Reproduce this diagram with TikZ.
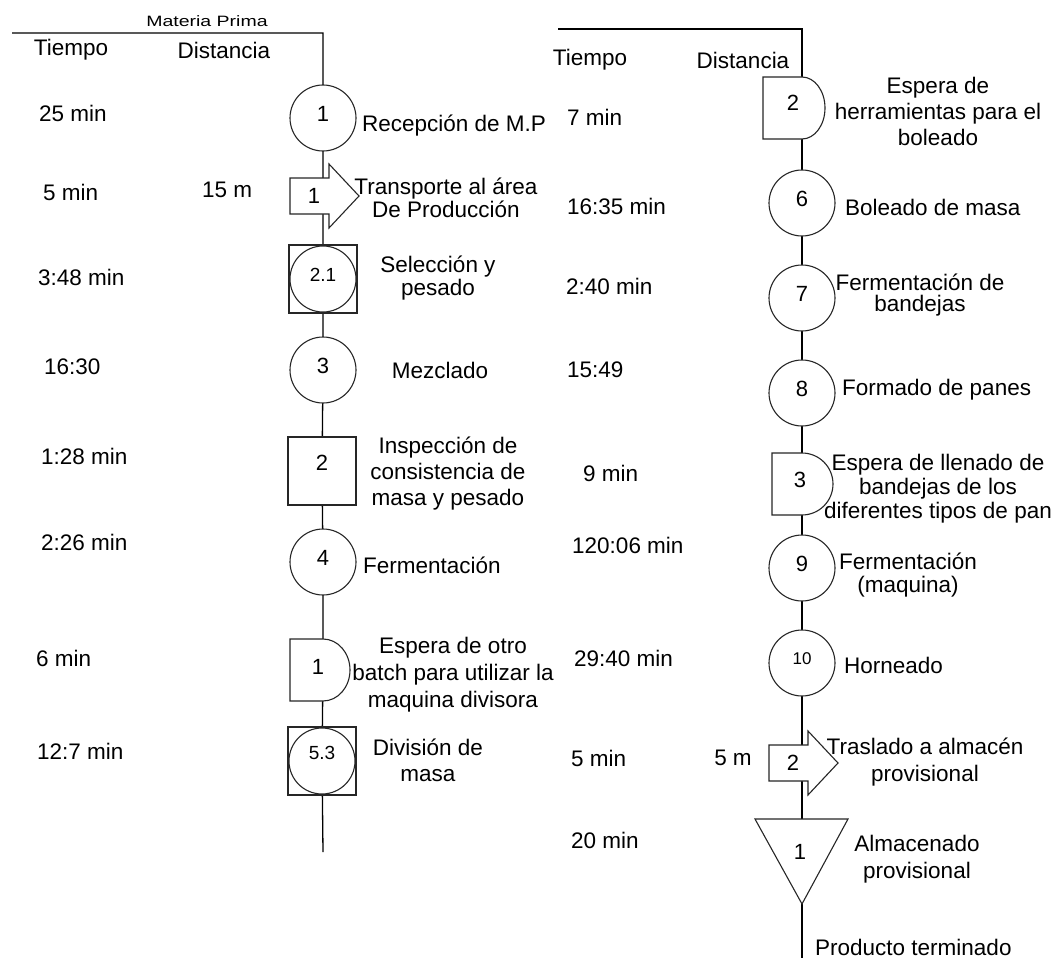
\documentclass[tikz,border=0pt]{standalone}
\usepackage{fontspec}
\setmainfont{Liberation Sans}
\pgfdeclarelayer{bg}
\pgfsetlayers{bg,main}
\newcommand\waitD[4]{\draw[shp] (#1-#3,#2-31) -- (#1,#2-31) arc[start angle=-90,end angle=90,x radius=#4,y radius=31] -- (#1-#3,#2+31) -- cycle;}
\newcommand\transp[2]{\draw[shp] (#1-33,#2-18) -- (#1+6,#2-18) -- (#1+6,#2-32) -- (#1+36,#2) -- (#1+6,#2+32) -- (#1+6,#2+18) -- (#1-33,#2+18) -- cycle;}
\newcommand\up[1]{\raisebox{4pt}[\height][\depth]{#1}}
\begin{document}
\begin{tikzpicture}[x=1pt,y=-1pt,
  font=\fontsize{22.5}{24}\selectfont,
  lbl/.style={inner sep=0pt, align=center},
  tl/.style={inner sep=0pt, anchor=west},
  num/.style={inner sep=0pt, font=\fontsize{22}{24}\selectfont},
  snum/.style={inner sep=0pt, font=\fontsize{19}{21}\selectfont},
  xsnum/.style={inner sep=0pt, font=\fontsize{17}{19}\selectfont},
  shp/.style={draw=black!85, line width=1.1pt, fill=white},
  spine/.style={draw=black, line width=1.3pt},
  opc/.style={shp, circle, minimum size=66pt, inner sep=0pt},
  insp/.style={shp, rectangle, minimum size=68pt, inner sep=0pt},
  opbox/.style={insp, path picture={\draw[black!85,line width=1.1pt] (path picture bounding box.center) circle (33pt);}}
]
\useasboundingbox (0,0) rectangle (1061,958);

% ---------------- left column ----------------
\node[lbl, font=\fontsize{15}{17}\selectfont] (mp) at (207,21) {\scalebox{1.3}[1]{Materia Prima}};
\coordinate (Ls) at (12,33);
\coordinate (Lc) at (323,33);
\node[lbl] (t1) at (71,50) {Tiempo};
\node[lbl] (d1h) at (224,50) {Distancia};

\node[opc, num] (c1) at (323,118) {\up{1}};
\node[tl] (c1t) at (362,126) {Recepción de M.P};
\node[tl] (c1m) at (39,113) {25 min};

\coordinate (a1) at (323,196);
\transp{323}{196}
\node[num] (a1n) at (314,196) {1};
\node[tl] (a1m) at (43,192) {5 min};
\node[tl] (a1d) at (202,190) {15 m};
\node[lbl, font=\fontsize{22.5}{23}\selectfont] (a1t) at (446,198) {Transporte al área\\De Producción};

\node[opbox, snum] (b21) at (323,279) {\up{2.1}};
\node[lbl, font=\fontsize{22.5}{23}\selectfont] (b21t) at (438,278) {Selección y\\pesado};
\node[tl] (b21m) at (38,277) {3:48 min};

\node[opc, num] (c3) at (323,370) {\up{3}};
\node[lbl] (c3t) at (440,370) {Mezclado};
\node[tl] (c3m) at (44,367) {16:30};

\node[insp, num] (b2) at (322,471) {\up{\up{2}}};
\node[lbl, font=\fontsize{22.5}{26}\selectfont] (b2t) at (448,474) {Inspección de\\consistencia de\\masa y pesado};
\node[tl] (b2m) at (41,456) {1:28 min};

\node[opc, num] (c4) at (323,562) {\up{4}};
\node[tl] (c4t) at (363,565) {Fermentación};
\node[tl] (c4m) at (41,542) {2:26 min};

\coordinate (w1) at (323,670);
\waitD{323}{670}{33}{27}
\node[num] (w1n) at (318,667) {1};
\node[lbl, font=\fontsize{22.5}{27}\selectfont] (w1t) at (453,675) {Espera de otro\\batch para utilizar la\\maquina divisora};
\node[tl] (w1m) at (36,658) {6 min};

\node[opbox, snum] (b53) at (322,761) {\up{\up{5.3}}};
\node[lbl, font=\fontsize{22.5}{26}\selectfont] (b53t) at (428,760) {División de\\masa};
\node[tl] (b53m) at (37,751) {12:7 min};
\coordinate (Lb) at (323,852);

% ---------------- right column ----------------
\coordinate (Rs) at (558,29);
\coordinate (Rc) at (802,29);
\node[lbl] (t2) at (590,60) {Tiempo};
\node[lbl] (d2h) at (743,60) {Distancia};

\coordinate (w2) at (802,108);
\waitD{802}{108}{39}{23}
\node[num] (w2n) at (793,103) {2};
\node[lbl, font=\fontsize{22.5}{26}\selectfont] (w2t) at (938,111) {Espera de\\herramientas para el\\boleado};
\node[tl] (w2m) at (567,117) {7 min};

\node[opc, num] (c6) at (802,203) {\up{6}};
\node[tl] (c6t) at (845,207) {Boleado de masa};
\node[tl] (c6m) at (567,206) {16:35 min};

\node[opc, num] (c7) at (802,298) {\up{7}};
\node[lbl, font=\fontsize{22.5}{21}\selectfont] (c7t) at (920,295) {Fermentación de\\bandejas};
\node[tl] (c7m) at (566,286) {2:40 min};

\node[opc, num] (c8) at (802,393) {\up{8}};
\node[tl] (c8t) at (842,390) {Formado de panes};
\node[tl] (c8m) at (567,370) {15:49};

\coordinate (w3) at (802,484);
\waitD{802}{484}{30}{31}
\node[num] (w3n) at (800,480) {3};
\node[lbl, font=\fontsize{22.5}{24}\selectfont] (w3t) at (938,489) {Espera de llenado de\\bandejas de los\\diferentes tipos de pan};
\node[tl] (w3m) at (583,473) {9 min};

\node[opc, num] (c9) at (802,568) {\up{9}};
\node[lbl, font=\fontsize{22.5}{23}\selectfont] (c9t) at (908,575) {Fermentación\\(maquina)};
\node[tl] (c9m) at (572,545) {120:06 min};

\node[opc, xsnum] (c10) at (802,663) {\up{10}};
\node[tl] (c10t) at (844,665) {Horneado};
\node[tl] (c10m) at (574,658) {29:40 min};

\coordinate (a2) at (802,763);
\transp{802}{763}
\node[num] (a2n) at (793,763) {2};
\node[tl] (a2m) at (571,758) {5 min};
\node[lbl] (a2d) at (733,758) {5 m};
\node[lbl, font=\fontsize{22.5}{27}\selectfont] (a2t) at (925,762) {Traslado a almacén\\provisional};

\coordinate (s1) at (802,852);
\draw[shp] (755,819) -- (848,819) -- (802,904) -- cycle;
\node[num] (s1n) at (800,852) {1};
\node[tl] (s1m) at (571,840) {20 min};
\node[lbl, font=\fontsize{22.5}{27}\selectfont] (s1t) at (917,859) {Almacenado\\provisional};

\coordinate (Rb) at (802,958);
\node[tl] (pt) at (815,947) {Producto terminado};

% ---------------- spines ----------------
\begin{pgfonlayer}{bg}
\draw[spine] (Ls) -- (Lc) -- (c1.center) -- (a1) -- (b21.center) -- (c3.center) -- (b2.center) -- (c4.center) -- (w1) -- (b53.center) -- (Lb);
\draw[spine] (Rs) -- (Rc) -- (w2) -- (c6.center) -- (c7.center) -- (c8.center) -- (w3) -- (c9.center) -- (c10.center) -- (a2) -- (s1) -- (Rb);
\end{pgfonlayer}
\end{tikzpicture}
\end{document}
